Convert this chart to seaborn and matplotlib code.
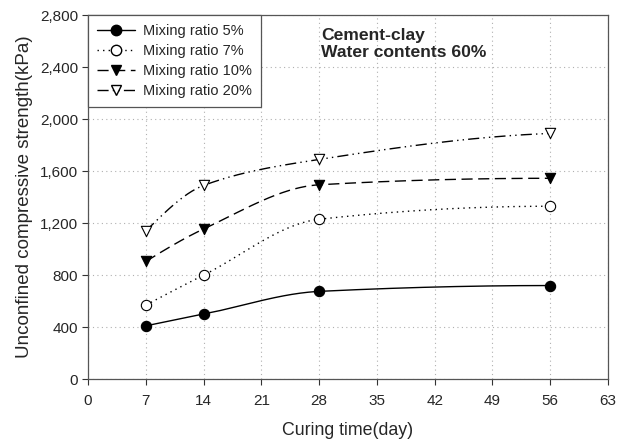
import numpy as np
import pandas as pd
import matplotlib
matplotlib.use("Agg")
import matplotlib.pyplot as plt
from matplotlib.lines import Line2D
import seaborn as sns

days = [7, 14, 28, 56]
ratio_5 = [410, 500, 675, 720]
ratio_7 = [570, 800, 1230, 1330]
ratio_10 = [905, 1155, 1495, 1545]
ratio_20 = [1140, 1490, 1690, 1890]
labels = ["Mixing ratio 5%", "Mixing ratio 7%", "Mixing ratio 10%", "Mixing ratio 20%"]
x_ticks = [0, 7, 14, 21, 28, 35, 42, 49, 56, 63]
y_ticks = [0, 400, 800, 1200, 1600, 2000, 2400, 2800]

sns.set_theme(style="white")
plt.rcParams["font.family"] = ["Liberation Sans", "DejaVu Sans"]


def pchip(x, y, xs):
    x = np.asarray(x, float); y = np.asarray(y, float)
    h = np.diff(x); d = np.diff(y) / h
    n = len(x); m = np.zeros(n)
    for k in range(1, n - 1):
        if d[k - 1] * d[k] > 0:
            w1 = 2 * h[k] + h[k - 1]; w2 = h[k] + 2 * h[k - 1]
            m[k] = (w1 + w2) / (w1 / d[k - 1] + w2 / d[k])
    m[0] = ((2 * h[0] + h[1]) * d[0] - h[0] * d[1]) / (h[0] + h[1])
    if np.sign(m[0]) != np.sign(d[0]):
        m[0] = 0
    m[-1] = ((2 * h[-1] + h[-2]) * d[-1] - h[-1] * d[-2]) / (h[-1] + h[-2])
    if np.sign(m[-1]) != np.sign(d[-1]):
        m[-1] = 0
    out = np.empty_like(xs)
    for i, xv in enumerate(xs):
        k = min(np.searchsorted(x, xv, side="right") - 1, n - 2)
        t = (xv - x[k]) / h[k]
        h00 = 2 * t**3 - 3 * t**2 + 1; h10 = t**3 - 2 * t**2 + t
        h01 = -2 * t**3 + 3 * t**2; h11 = t**3 - t**2
        out[i] = h00 * y[k] + h10 * h[k] * m[k] + h01 * y[k + 1] + h11 * h[k] * m[k + 1]
    return out


fig = plt.figure(figsize=(6.29, 4.45), dpi=100)
ax = fig.add_axes([0.14, 0.148, 0.8266, 0.818])

series = [ratio_5, ratio_7, ratio_10, ratio_20]
styles = [
    dict(ls="-", marker="o", mfc="black"),
    dict(ls=(0, (1, 3)), marker="o", mfc="white"),
    dict(ls=(0, (8, 4)), marker="v", mfc="black"),
    dict(ls=(0, (8, 3, 1, 3, 1, 3)), marker="v", mfc="white"),
]
xs = np.linspace(days[0], days[-1], 300)
handles = []
for vals, lab, st in zip(series, labels, styles):
    dense = pd.DataFrame({"x": xs, "y": pchip(days, vals, xs)})
    sns.lineplot(data=dense, x="x", y="y", ax=ax, color="black", lw=1.0,
                 linestyle=st["ls"], legend=False)
    pts = pd.DataFrame({"x": days, "y": vals})
    sns.scatterplot(data=pts, x="x", y="y", ax=ax, marker=st["marker"], s=55,
                    facecolor=st["mfc"], edgecolor="black", linewidth=0.8,
                    legend=False, zorder=5)
    handles.append(Line2D([0], [0], color="black", lw=1.0, linestyle=st["ls"],
                          marker=st["marker"], markersize=7.5,
                          markerfacecolor=st["mfc"], markeredgecolor="black"))

ax.set_xlim(0, 63)
ax.set_ylim(0, 2800)
ax.set_xticks(x_ticks)
ax.set_yticks(y_ticks)
ax.set_yticklabels([f"{v:,}" for v in y_ticks])
ax.grid(True, color="#b0b0b0", linestyle=(0, (1, 3)), lw=0.8)
ax.tick_params(axis="both", direction="out", length=4, width=0.8, color="#333333",
               labelsize=11, left=True, bottom=True)
ax.tick_params(axis="x", pad=7)
ax.tick_params(axis="y", pad=3)
for s in ax.spines.values():
    s.set_color("#555555"); s.set_linewidth(0.9)
ax.set_xlabel("Curing time(day)", fontsize=12.8, labelpad=10)
ax.set_ylabel("Unconfined compressive strength(kPa)", fontsize=13.5, labelpad=5)

leg = ax.legend(handles, labels, loc="upper left", fontsize=10.5, frameon=True,
                fancybox=False, edgecolor="#555555", framealpha=1,
                borderpad=0.6, handlelength=2.6, labelspacing=0.42,
                handletextpad=0.6, borderaxespad=0.0)
leg.get_frame().set_linewidth(0.9)

ax.text(0.448, 0.965, "Cement-clay\nWater contents 60%", transform=ax.transAxes,
        fontsize=12.6, fontweight="bold", va="top", ha="left", linespacing=1.2)

fig.savefig("out.png", dpi=100)
